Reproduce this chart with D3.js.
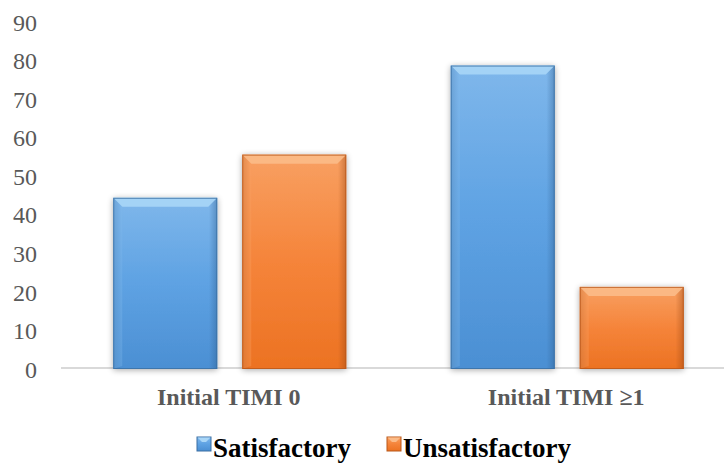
<!DOCTYPE html>
<html>
<head>
<meta charset="utf-8">
<script src="https://cdn.jsdelivr.net/npm/d3@7"></script>
<style>
  html, body { margin: 0; padding: 0; background: #fff; }
  svg { display: block; }
  svg text { font-family: "Liberation Serif", "DejaVu Serif", "Times New Roman", serif; }
</style>
</head>
<body>
<svg id="chart" width="724" height="466"></svg>
<script>
const categories = ["Initial TIMI 0", "Initial TIMI \u22651"];
const seriesNames = ["Satisfactory", "Unsatisfactory"];
const satisfactory = [44.4, 78.7];
const unsatisfactory = [55.6, 21.3];
const yTicks = [0, 10, 20, 30, 40, 50, 60, 70, 80, 90];

const values = [satisfactory, unsatisfactory];
const svg = d3.select("#chart");
const W = 724, H = 466;
const plot = { left: 61, right: 736, top: 22, bottom: 369 };

const x0 = d3.scaleBand().domain(categories).range([plot.left, plot.right]).padding(0);
const x1 = d3.scaleBand().domain(seriesNames).range([0, x0.bandwidth()])
  .paddingInner(0.194).paddingOuter(0.405);
const y = d3.scaleLinear().domain([0, 90]).range([plot.bottom, plot.top]);

const palettes = {
  "Satisfactory": { top: "#7fb7eb", mid: "#5ea2e3", bot: "#4b8fd3", edge: "#3b6fa3", hi: "#a9d6f7", dark: "#2f5f91" },
  "Unsatisfactory": { top: "#f8a062", mid: "#f5843a", bot: "#ec7222", edge: "#b9581a", hi: "#fbbb88", dark: "#9a4612" }
};

const defs = svg.append("defs");
const f = defs.append("filter").attr("id", "shadow").attr("x", "-20%").attr("y", "-10%").attr("width", "140%").attr("height", "120%");
f.append("feGaussianBlur").attr("in", "SourceAlpha").attr("stdDeviation", 3).attr("result", "b");
f.append("feOffset").attr("in", "b").attr("dx", 0).attr("dy", 1).attr("result", "o");
f.append("feComponentTransfer").attr("in", "o").attr("result", "o2")
  .append("feFuncA").attr("type", "linear").attr("slope", 0.35);
const fm = f.append("feMerge");
fm.append("feMergeNode").attr("in", "o2");
fm.append("feMergeNode").attr("in", "SourceGraphic");

seriesNames.forEach((s, i) => {
  const p = palettes[s];
  const g = defs.append("linearGradient").attr("id", "grad" + i).attr("x1", 0).attr("y1", 0).attr("x2", 0).attr("y2", 1);
  g.append("stop").attr("offset", "0%").attr("stop-color", p.top);
  g.append("stop").attr("offset", "50%").attr("stop-color", p.mid);
  g.append("stop").attr("offset", "100%").attr("stop-color", p.bot);
  const gh = defs.append("linearGradient").attr("id", "gradh" + i).attr("x1", 0).attr("y1", 0).attr("x2", 1).attr("y2", 0);
  gh.append("stop").attr("offset", "0%").attr("stop-color", p.dark).attr("stop-opacity", 0.35);
  gh.append("stop").attr("offset", "8%").attr("stop-color", p.dark).attr("stop-opacity", 0);
  gh.append("stop").attr("offset", "92%").attr("stop-color", p.dark).attr("stop-opacity", 0);
  gh.append("stop").attr("offset", "100%").attr("stop-color", p.dark).attr("stop-opacity", 0.45);
});

// Axis line
const xAxis = d3.axisBottom(x0).tickSize(0).tickFormat("");
const xg = svg.append("g").attr("transform", `translate(0,${plot.bottom - 1})`).call(xAxis);
xg.select(".domain").attr("stroke", "#d9d9d9").attr("stroke-width", 2).attr("d", `M${plot.left},0H${W}`);

// Y axis labels
const yAxis = d3.axisLeft(y).tickValues(yTicks).tickSize(0).tickPadding(0);
const yg = svg.append("g").attr("transform", `translate(37,0)`).call(yAxis);
yg.select(".domain").remove();
yg.attr("font-family", null).attr("font-size", null);
yg.selectAll("text").style("font-size", "24px").attr("fill", "#595959").attr("dy", "0.34em");

// Bars
const bev = 9;
categories.forEach((c, ci) => {
  seriesNames.forEach((s, si) => {
    const v = values[si][ci];
    const bx = x0(c) + x1(s), bw = x1.bandwidth();
    const by = y(v), bh = y(0) - y(v);
    const p = palettes[s];
    const g = svg.append("g");
    g.append("rect").attr("x", bx).attr("y", by).attr("width", bw).attr("height", bh)
      .attr("fill", `url(#grad${si})`).attr("filter", "url(#shadow)");
    g.append("rect").attr("x", bx).attr("y", by).attr("width", bw).attr("height", bh)
      .attr("fill", `url(#gradh${si})`);
    g.append("path").attr("d", `M${bx},${by}H${bx + bw}L${bx + bw - bev},${by + bev}H${bx + bev}Z`)
      .attr("fill", p.hi).attr("opacity", 0.9);
    g.append("path").attr("d", `M${bx},${by}L${bx + bev},${by + bev}V${by + bh - 3}L${bx},${by + bh}Z`)
      .attr("fill", p.top).attr("opacity", 0.35);
    g.append("rect").attr("x", bx + 0.5).attr("y", by + 0.5).attr("width", bw - 1).attr("height", bh - 1)
      .attr("fill", "none").attr("stroke", p.edge).attr("stroke-width", 1).attr("opacity", 0.8);
  });
  svg.append("text").attr("x", x0(c) + x0.bandwidth() / 2 - 1).attr("y", 405)
    .attr("text-anchor", "middle")
    .style("font-weight", "bold").style("font-size", "24px").attr("fill", "#595959").text(c);
});

// Legend
const legend = svg.append("g");
const legX = [197, 387];
seriesNames.forEach((s, i) => {
  const p = palettes[s];
  const lg = legend.append("g").attr("transform", `translate(${legX[i]},437)`);
  lg.append("rect").attr("width", 14).attr("height", 14).attr("fill", `url(#grad${i})`).attr("stroke", p.edge);
  lg.append("path").attr("d", "M0.5,0.5H13.5L9,5H5Z").attr("fill", p.hi);
  lg.append("text").attr("x", 16).attr("y", 20)
    .style("font-weight", "bold").style("font-size", "27px").attr("fill", "#000").text(s);
});
</script>
</body>
</html>
